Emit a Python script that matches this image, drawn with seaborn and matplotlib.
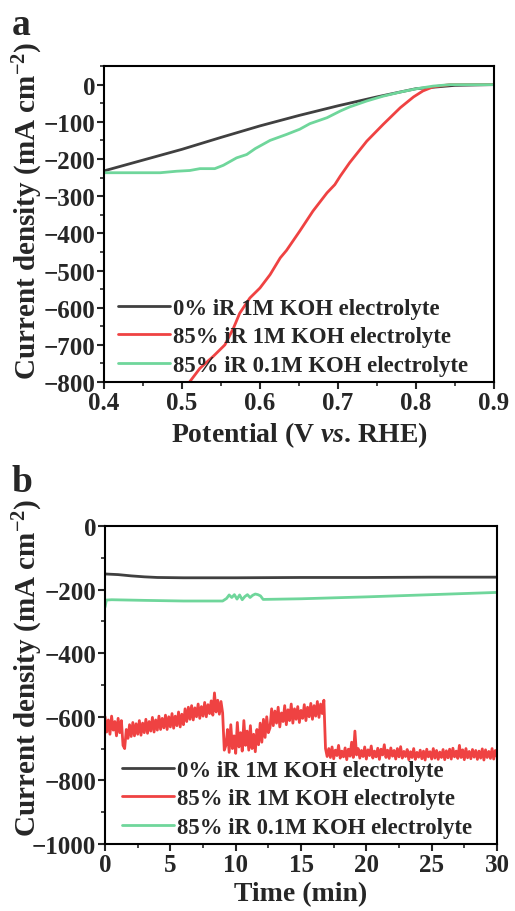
import numpy as np
import matplotlib
matplotlib.use("Agg")
import matplotlib.pyplot as plt
from matplotlib.ticker import MultipleLocator
import seaborn as sns

# ---- panel a: polarisation curves ----
lsv_black_v = [0.40, 0.45, 0.50, 0.55, 0.60, 0.65, 0.70, 0.75, 0.80, 0.85, 0.90]
lsv_black_j = [-232, -203, -174, -142, -111, -83, -57, -33, -11, -2, 0]

lsv_red_v = [0.505, 0.510, 0.523, 0.540, 0.555, 0.566, 0.574, 0.587, 0.600, 0.613, 0.626,
             0.634, 0.651, 0.668, 0.686, 0.696, 0.703, 0.715, 0.737, 0.758, 0.780,
             0.797, 0.809, 0.822, 0.844, 0.900]
lsv_red_j = [-840, -799, -763, -731, -700, -655, -615, -574, -547, -511, -466,
             -446, -394, -340, -291, -269, -246, -210, -152, -107, -62,
             -33, -17, -6, 0, 0]

lsv_green_v = [0.400, 0.472, 0.493, 0.510, 0.523, 0.542, 0.553, 0.570, 0.583, 0.594, 0.613,
               0.634, 0.651, 0.664, 0.686, 0.703, 0.715, 0.737, 0.758, 0.780, 0.801,
               0.822, 0.844, 0.865, 0.900]
lsv_green_j = [-237, -237, -233, -231, -226, -226, -217, -197, -188, -172, -150,
               -134, -120, -105, -89, -71, -60, -44, -31, -20, -11,
               -4, 0, 0, 0]

# ---- panel b: chronoamperometry ----
cp_black_t = [0, 1, 2, 3, 4, 6, 10, 15, 20, 25, 30]
cp_black_j = [-151, -153, -157, -160, -162, -163, -163, -162, -162, -161, -161]

cp_green_t = [0, 0.1, 0.5, 3, 6, 9.0, 9.3, 9.5, 9.7, 9.9, 10.1, 10.3, 10.5, 10.7, 10.9,
              11.1, 11.3, 11.5, 11.7, 11.9, 12.1, 15, 20, 25, 30]
cp_green_j = [-255, -233, -232, -234, -236, -236, -228, -217, -225, -216, -230, -217,
              -232, -222, -216, -225, -218, -214, -216, -220, -231, -229, -223, -216, -209]

# red trace read every 0.125 min
cp_red_j = [
    # 0 - 2 min
    -600, -648, -610, -655, -598, -642, -615, -660, -605, -650, -612, -690, -700, -640,
    -668, -625, -662,
    # 2.125 - 6 min
    -618, -660, -622, -655, -612, -658, -620, -650, -608, -652, -615, -645, -602, -648,
    -610, -642, -598, -640, -605, -635, -595, -640, -600, -632, -590, -636, -598, -628,
    -585, -632, -592, -625,
    # 6.125 - 9 min
    -575, -615, -570, -608, -565, -610, -572, -600, -560, -605, -568, -598, -555, -600,
    -562, -590, -550, -595, -525, -585, -548, -592, -552, -588,
    # 9.125 - 12.5 min
    -705, -690, -640, -712, -625, -700, -660, -715, -618, -695, -650, -708, -612, -690,
    -645, -705, -628, -700, -655, -710, -640, -688, -620, -680, -608, -665, -600, -650,
    # 12.625 - 16.75 min
    -635, -575, -628, -582, -620, -570, -632, -588, -615, -565, -625, -578, -612, -560,
    -620, -575, -608, -568, -618, -580, -605, -562, -612, -570, -600, -558, -608, -565,
    -598, -552, -602, -560, -590, -548,
    # drop
    -700, -725,
    # 17.125 - 30 min
    -700, -728, -695, -732, -705, -722, -690, -730,
    -708, -726, -698, -735, -702, -724, -680, -728,
    -645, -720, -700, -730, -706, -725, -695, -733,
    -704, -722, -692, -730, -708, -726, -699, -734,
    -702, -720, -688, -728, -705, -731, -698, -724,
    -706, -733, -700, -726, -694, -730, -709, -725,
    -703, -735, -710, -728, -700, -734, -712, -727,
    -705, -732, -708, -736, -702, -726, -710, -733,
    -700, -730, -706, -734, -711, -728, -703, -735,
    -707, -729, -702, -733, -699, -726, -708, -731,
    -690, -728, -704, -735, -700, -729, -709, -732,
    -703, -727, -706, -734, -708, -730, -701, -736,
    -704, -728, -709, -731, -700, -733, -706, -725]
cp_red_t = np.linspace(0, 30, len(cp_red_j))

labels = ["0% iR 1M KOH electrolyte", "85% iR 1M KOH electrolyte",
          "85% iR 0.1M KOH electrolyte"]
c_black = "#404040"
c_red = "#ef4242"
c_green = "#6fd69b"

sns.set_style("ticks")
plt.rcParams["font.family"] = ["Liberation Serif", "DejaVu Serif"]
plt.rcParams["font.weight"] = "bold"
plt.rcParams["axes.labelweight"] = "bold"
plt.rcParams["axes.linewidth"] = 1.5
plt.rcParams["mathtext.fontset"] = "custom"
plt.rcParams["mathtext.rm"] = "Liberation Serif:bold"
plt.rcParams["mathtext.it"] = "Liberation Serif:bold:italic"
plt.rcParams["mathtext.bf"] = "Liberation Serif:bold"

fig = plt.figure(figsize=(5.15, 9.12), dpi=100)
ax1 = fig.add_axes([0.202, 0.580, 0.757, 0.3465])
ax2 = fig.add_axes([0.204, 0.0735, 0.761, 0.3487])

lw = 2.0
sns.lineplot(x=lsv_black_v, y=lsv_black_j, color=c_black, lw=lw, ax=ax1, label=labels[0])
sns.lineplot(x=lsv_red_v, y=lsv_red_j, color=c_red, lw=lw, ax=ax1, label=labels[1])
sns.lineplot(x=lsv_green_v, y=lsv_green_j, color=c_green, lw=lw, ax=ax1, label=labels[2])

sns.lineplot(x=cp_black_t, y=cp_black_j, color=c_black, lw=lw, ax=ax2, label=labels[0])
sns.lineplot(x=cp_red_t, y=cp_red_j, color=c_red, lw=lw, ax=ax2, label=labels[1])
sns.lineplot(x=cp_green_t, y=cp_green_j, color=c_green, lw=lw, ax=ax2, label=labels[2])

ax1.set_xlim(0.4, 0.9)
ax1.set_ylim(-800, 50)
ax1.xaxis.set_major_locator(MultipleLocator(0.1))
ax1.xaxis.set_minor_locator(MultipleLocator(0.05))
ax1.yaxis.set_major_locator(MultipleLocator(100))
ax1.yaxis.set_minor_locator(MultipleLocator(50))
ax1.set_xlabel(r"Potential (V $\mathit{vs}$. RHE)", fontsize=20)

ax2.set_xlim(0, 30)
ax2.set_ylim(-1000, 0)
ax2.xaxis.set_major_locator(MultipleLocator(5))
ax2.xaxis.set_minor_locator(MultipleLocator(2.5))
ax2.yaxis.set_major_locator(MultipleLocator(200))
ax2.yaxis.set_minor_locator(MultipleLocator(100))
ax2.set_xlabel("Time (min)", fontsize=20)

legend_pos = {ax1: (0.035, 0.02), ax2: (0.042, 0.02)}
label_y = {ax1: 0.545, ax2: 0.556}
for ax in (ax1, ax2):
    for s in ax.spines.values():
        s.set_visible(True)
        s.set_linewidth(1.5)
        s.set_color("black")
    ax.tick_params(which="major", direction="out", length=5, width=1.5,
                   labelsize=18, pad=1.5, top=False, right=False)
    ax.tick_params(which="minor", direction="out", length=3, width=1.2,
                   top=False, right=False)
    ax.set_ylabel(r"Current density (mA cm$^{-2}$)", fontsize=21)
    ax.yaxis.set_label_coords(-0.152, label_y[ax])
    ax.legend(loc="lower left", bbox_to_anchor=legend_pos[ax], frameon=False,
              fontsize=16.4, handlelength=2.3, handletextpad=0.15,
              labelspacing=0.33, borderpad=0, borderaxespad=0)

fig.text(0.022, 0.962, "a", fontsize=27, fontweight="bold")
fig.text(0.022, 0.461, "b", fontsize=27, fontweight="bold")

fig.savefig("out.png", dpi=100)
